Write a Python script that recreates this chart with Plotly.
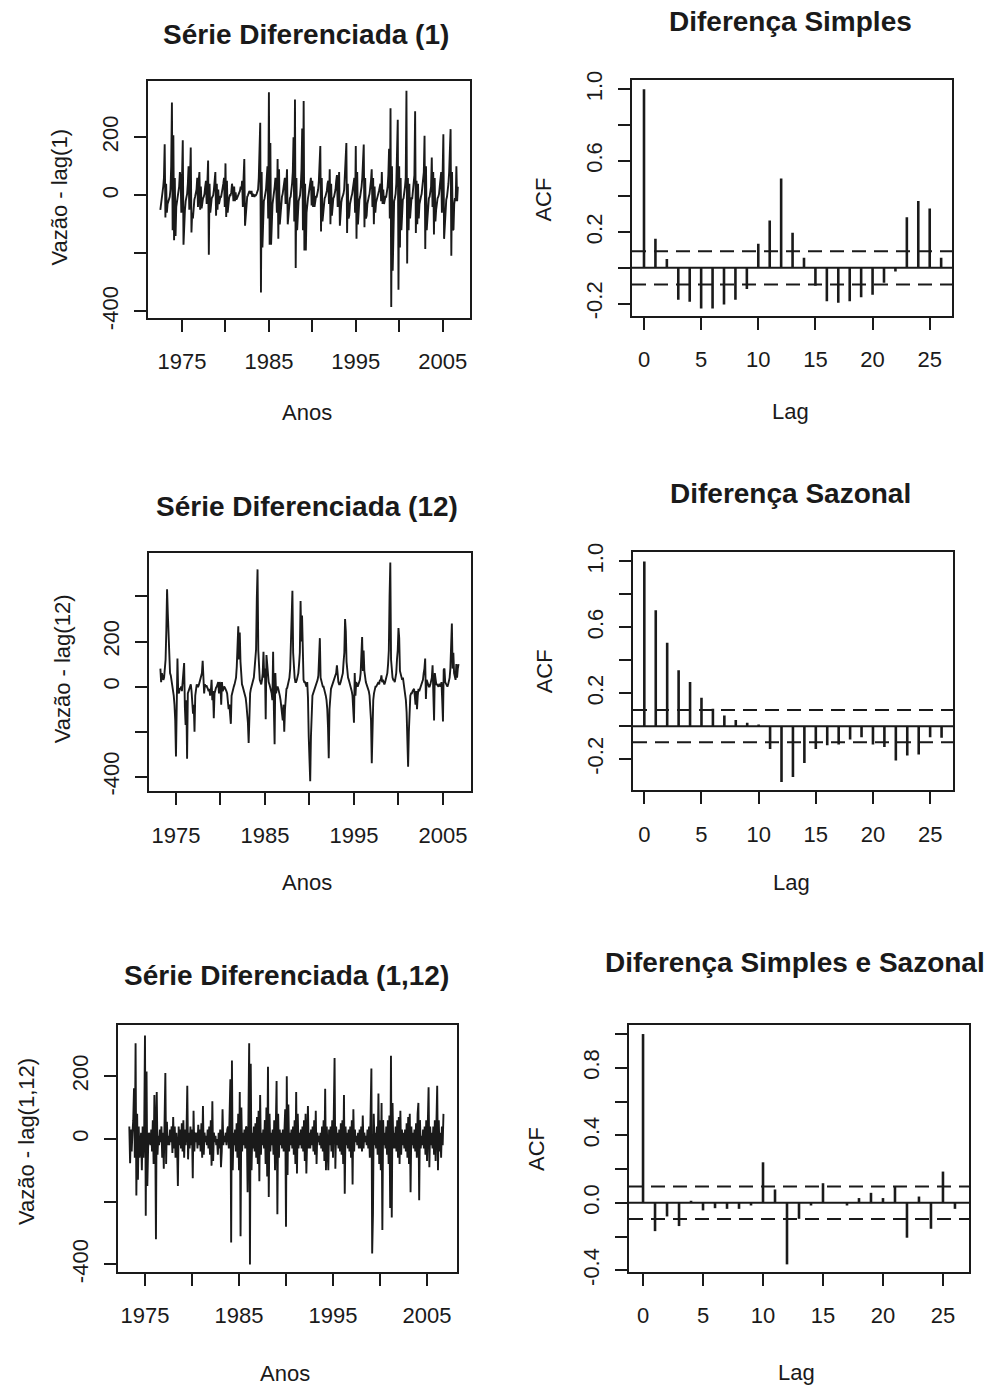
import plotly.graph_objects as go

# ------------------------------------------------------------------ data
FONT = "Liberation Sans, Arial, sans-serif"
INK = "#1a1a1a"

YEAR_TICKS = [1975, 1980, 1985, 1990, 1995, 2000, 2005]
YEAR_TICK_TEXT = ["1975", "", "1985", "", "1995", "", "2005"]
LAG_TICKS = [0, 5, 10, 15, 20, 25]
LAGS = list(range(27))

# Série diferenciada (1): monthly, first value Jul 1972, rows Jul..Jun
D1_START = 1972.5
diff1_rows = [
    [-50, -20, -10, 10, 30, 60, 176, -76, 40, -60, -30, -20],
    [-15, -5, 20, 100, 320, -120, 207, -155, 60, -140, -40, -20],
    [-10, 0, 30, 80, 60, -60, 120, 190, -170, -90, -50, -20],
    [-10, 5, 40, 100, -50, 80, 165, -128, -60, -80, -30, -15],
    [-5, 10, 20, 60, -40, 50, 80, -50, 30, -45, -20, -10],
    [-5, 5, 30, 50, -30, 40, 120, -205, 40, -60, -25, -10],
    [-5, 0, 20, 60, 80, -70, 40, -50, 20, -30, -15, -5],
    [-5, 5, 25, 40, 60, -40, 110, -75, 50, -60, -20, -10],
    [0, 0, 10, 40, 20, -20, 30, -20, 10, -15, -10, -5],
    [0, 5, 15, 30, 20, 50, -40, 60, 125, -105, -60, -20],
    [-5, 0, 10, 15, 10, 5, 15, -5, 5, 0, -5, 0],
    [0, 5, 10, 20, 60, 140, 250, -335, 80, -180, -60, -20],
    [-10, 0, 20, 60, 100, -80, 355, -170, 180, -170, -80, -30],
    [-10, 5, 30, 60, 40, -60, 125, -150, 90, -100, -60, -15],
    [-5, 5, 20, 50, 60, -30, 40, 90, -100, -60, -30, -10],
    [-5, 10, 40, 80, 200, -90, 330, -250, 60, -120, -60, -20],
    [-10, 0, 30, 90, 230, -120, 325, -190, 40, -190, -60, -20],
    [-10, 5, 20, 40, 60, -35, 50, -40, 30, -40, -20, -5],
    [-5, 5, 20, 50, 90, 170, -125, 60, -90, -60, -30, -10],
    [-5, 5, 15, 40, 50, -30, 90, -100, 40, -70, -30, -10],
    [-5, 5, 20, 50, 70, -40, 50, 80, -105, -50, -25, -10],
    [-5, 5, 20, 60, 100, 180, -130, 40, -80, -70, -30, -10],
    [-5, 5, 20, 40, 60, -60, 170, -150, 80, -100, -40, -15],
    [-5, 10, 30, 60, 160, 175, -110, 60, -80, -70, -30, -10],
    [-5, 5, 20, 50, 90, -40, 60, -100, 30, -60, -25, -10],
    [-5, 5, 15, 30, 40, -20, 80, -30, 20, -30, -15, -5],
    [-5, 10, 30, 70, 160, -80, 300, -385, 100, -260, -80, -20],
    [-10, 5, 40, 160, 260, -325, 100, -180, 60, -120, -40, -15],
    [-10, 5, 30, 60, 360, -235, 60, -120, 40, -80, -30, -10],
    [-10, 10, 40, 70, 290, -130, 50, -100, 40, -80, -30, -10],
    [-5, 5, 30, 60, 80, 205, -185, 100, -120, -80, -30, -10],
    [-5, 10, 30, 130, -40, 80, -135, 60, -90, -50, -25, -10],
    [-5, 5, 30, 60, 80, -60, 130, 210, -150, -100, -40, -15],
    [-5, 10, 40, 80, 140, 228, -208, 80, -120, -117, -30, -10],
    [-20, 100, -20, 30],
]

# Série diferenciada (12): first value Apr 1973
D12_START = 1973.25
diff12_rows = [
    [80, 20, 60],
    [50, 30, 40, 70, 120, 250, 432, 325, 215, 120, 60, 50],
    [30, 10, -10, -40, -80, -150, -310, -60, 125, -20, -30, -10],
    [-10, 0, -20, 20, 60, 105, -90, -170, -60, -320, -30, -10],
    [-10, 0, 10, -20, -60, -120, -80, -200, -40, 0, 10, 0],
    [0, 10, 20, 30, 40, 60, 115, 20, -30, 10, 0, 5],
    [0, -10, -20, -10, -40, -20, 30, -60, -20, -140, -30, -10],
    [-5, 0, 10, 20, -30, 20, 10, -80, 20, -20, -10, 0],
    [-5, -10, -20, -30, -60, -100, -80, -120, -165, -40, -20, -10],
    [0, 10, 20, 40, 90, 150, 268, 120, 240, 110, 40, 10],
    [0, -10, -20, -30, -50, -80, -120, -160, -250, -80, -30, -10],
    [0, 10, 20, 40, 80, 150, 165, 390, 520, 160, 60, 30],
    [20, 10, 30, 60, 155, 40, 80, -145, 140, 90, 40, 20],
    [10, 0, -20, -30, -60, 155, -100, -255, 60, -30, -10, 0],
    [-10, -20, -40, -60, -90, -120, -150, -80, -200, -100, -40, -10],
    [-5, 10, 20, 40, 80, 170, 335, 425, 150, 70, 40, 20],
    [20, 30, 40, 60, 100, 150, 380, 200, 315, 40, 30, 20],
    [20, 10, 0, 20, -50, -220, -375, -420, -220, -100, -40, -30],
    [-20, -10, 0, 10, 20, 30, 50, 160, 215, 40, 20, 10],
    [0, 0, -10, -20, -40, -60, -100, -180, -318, -100, -30, -10],
    [0, 10, 15, 20, 30, 40, 60, 95, 30, 20, 10, 10],
    [20, 30, 40, 60, 110, 150, 300, 245, 110, 50, 40, 30],
    [20, 10, 0, -20, -40, -80, -160, 60, -40, 20, 0, 0],
    [10, 20, 30, 60, 160, 220, 70, 160, 70, 20, 20, 10],
    [0, 0, -20, -40, -80, -150, -340, -150, -60, -30, -10, 0],
    [0, 10, 10, 20, 10, 30, 25, 50, 20, 30, 20, 10],
    [20, 30, 50, 60, 100, 160, 400, 550, 120, 60, 40, 30],
    [30, 20, 40, 60, 120, 160, 260, 215, 70, 60, 40, 30],
    [40, 20, 0, -20, -60, -115, -250, -355, -200, -80, -40, -30],
    [-30, -20, -10, -10, -40, -80, -20, -100, -40, -10, -20, -10],
    [0, 10, 20, 30, 60, 80, 125, -55, 30, 10, 10, 0],
    [0, 10, 20, 40, 95, 0, -150, 60, 20, 10, 10, 5],
    [0, 10, 10, 0, 20, -60, -155, 75, 80, 20, 10, 0],
    [0, 10, 20, 40, 80, 150, 280, 80, 150, 60, 40, 30],
    [100, 40, 80, 100],
]

# Série diferenciada (1,12): first value May 1973
D112_START = 1973 + 4 / 12
diff112_rows = [
    [40, -77],
    [30, -40, 20, 60, 162, -60, 305, -180, 80, -130, 40, -60],
    [-20, 20, -100, 40, -60, 30, 330, -245, 215, -150, -30, 20],
    [10, -20, 30, -40, 60, -80, 140, 55, -320, 150, -50, 10],
    [-20, 30, -10, 40, -60, 20, -95, 60, 210, -80, 55, -20],
    [10, -20, 30, -10, 40, -45, 70, -30, 40, -60, 20, -20],
    [-150, 40, -20, 30, -30, 50, -40, 60, -60, 30, -20, 20],
    [170, -65, 20, -30, 40, -20, 30, -125, 90, -40, 20, -10],
    [20, -30, 45, -20, 30, -40, 50, -60, 105, -50, 20, -10],
    [10, -20, 30, -30, 40, -50, 60, -85, 120, -70, 20, -10],
    [10, -20, 0, -50, 20, -30, 30, -90, -40, 95, -20, 10],
    [-10, 20, -20, 30, 40, -30, 60, 190, -330, 250, -100, 20],
    [-20, 30, -40, 50, -60, 80, -100, 150, -310, 100, -40, 20],
    [-20, 30, -30, 40, 35, -170, 60, 305, -400, 240, -100, 20],
    [-30, 40, -40, 50, -60, 70, -80, 90, -135, 140, -50, 20],
    [-20, 30, -30, 60, -80, 100, -120, 230, -185, 80, -40, 20],
    [-20, 30, -50, 60, -100, 120, 185, -240, 80, -60, 30, -20],
    [20, -30, 30, -40, 50, 95, -280, 200, -115, 110, -40, 20],
    [-20, 30, -30, 40, -50, 60, -80, 150, -110, 80, -30, 20],
    [-20, 30, -30, 40, -40, 60, -70, 80, -110, 40, 105, -30],
    [20, -30, 30, -20, 40, -40, 60, -50, 90, -80, 20, -10],
    [10, -20, 20, -30, 40, -40, 60, -70, 160, -100, 40, -20],
    [-100, 30, -20, 40, -40, 60, -60, 80, 258, -95, 40, -20],
    [20, -30, 30, -40, 50, -50, 60, -80, 140, -175, 40, -20],
    [20, -30, 30, -40, 40, -60, 60, -145, 95, -40, 30, -10],
    [10, -20, 20, -30, 30, -30, 40, -40, 75, -30, 20, -10],
    [10, -20, 30, -30, 40, -60, 170, 225, -365, -240, 80, -20],
    [20, -30, 40, -50, 145, -80, 60, -100, 115, -290, 60, -20],
    [20, -30, 40, -50, 60, -80, 75, -220, 265, -250, 115, -30],
    [20, -30, 40, -40, 60, -60, 70, -80, 90, -50, 30, -20],
    [20, -30, 30, -40, 50, -60, 70, -80, 80, -170, 40, -20],
    [20, -30, 30, -40, 50, -60, 80, 115, -195, 60, -30, 10],
    [-20, 30, -30, 40, -50, 60, -70, 80, 165, -90, 40, -20],
    [20, -30, 40, -50, 60, -70, 80, 170, -100, 60, -40, 20],
    [-60, 40, -20, 80],
]

# ACF values (lags 0..26)
acf_simples = [1.0, 0.163, 0.05, -0.178, -0.19, -0.228, -0.228, -0.205, -0.178,
               -0.118, 0.135, 0.265, 0.50, 0.196, 0.056, -0.10, -0.187, -0.196,
               -0.187, -0.164, -0.15, -0.084, -0.02, 0.284, 0.374, 0.333, 0.056]
acf_sazonal = [1.0, 0.704, 0.507, 0.339, 0.268, 0.172, 0.105, 0.065, 0.037,
               0.02, 0.01, -0.138, -0.339, -0.308, -0.223, -0.138, -0.116, -0.112,
               -0.081, -0.067, -0.112, -0.126, -0.209, -0.178, -0.172, -0.067, -0.071]
acf_ambas = [1.0, -0.168, -0.081, -0.138, 0.012, -0.045, -0.032, -0.036, -0.036,
             -0.016, 0.24, 0.079, -0.365, -0.095, -0.016, 0.116, 0.004, -0.016,
             0.028, 0.059, 0.028, 0.099, -0.207, 0.037, -0.154, 0.185, -0.036]
conf_simples = 0.093
conf_sazonal = 0.098
conf_ambas = 0.096

ACF_TICKS = [-0.4, -0.2, 0.0, 0.2, 0.4, 0.6, 0.8, 1.0]
ACF_TEXT_A = ["", "-0.2", "", "0.2", "", "0.6", "", "1.0"]
ACF_TEXT_B = ["-0.4", "", "0.0", "", "0.4", "", "0.8", ""]
TS_TICKS = [-400, -200, 0, 200, 400]
TS_TEXT = ["-400", "", "0", "200", ""]


def flatten(rows):
    return [v for r in rows for v in r]


def months(start, n):
    return [start + i / 12 for i in range(n)]


def stems(lags, vals):
    xs, ys = [], []
    for l, v in zip(lags, vals):
        xs += [l, l, None]
        ys += [0, v, None]
    return xs, ys


# ------------------------------------------------------------------ layout
W, H = 1000, 1388
# the captured page is mapped vertically as y_img = 9.3 + 0.984 * y_page;
# positions below are target image pixels, converted back to page pixels
V_OFF, V_SCALE = 9.3, 0.984


def py(y):
    return (y - V_OFF) / V_SCALE


# target pixel boxes (left, right, top, bottom)
BOX = {
    1: (148, 470, 81, 318),
    2: (632, 952, 80, 316),
    3: (149, 471, 554, 792),
    4: (633, 953, 553, 791),
    5: (118, 457, 1026, 1273),
    6: (629, 969, 1026, 1273),
}
XRANGE = {1: [1971.08, 2008.15], 2: [-1.05, 26.95], 3: [1971.97, 2008.15],
          4: [-0.99, 27.0], 5: [1972.13, 2008.19], 6: [-1.17, 27.17]}
YRANGE = {1: [-421, 395], 2: [-0.267, 1.054], 3: [-464, 591],
          4: [-0.389, 1.055], 5: [-424, 363], 6: [-0.41, 1.053]}

fig = go.Figure()

series = [(1, D1_START, flatten(diff1_rows)),
          (3, D12_START, flatten(diff12_rows)),
          (5, D112_START, flatten(diff112_rows))]
for k, start, vals in series:
    fig.add_trace(go.Scatter(x=months(start, len(vals)), y=vals, mode="lines",
                             line=dict(color=INK, width=1.9),
                             xaxis=f"x{k}", yaxis=f"y{k}", hoverinfo="skip"))

acfs = [(2, acf_simples, conf_simples), (4, acf_sazonal, conf_sazonal),
        (6, acf_ambas, conf_ambas)]
shapes = []
for k, vals, c in acfs:
    xs, ys = stems(LAGS, vals)
    fig.add_trace(go.Scatter(x=xs, y=ys, mode="lines",
                             line=dict(color=INK, width=2.6),
                             xaxis=f"x{k}", yaxis=f"y{k}", hoverinfo="skip"))
    shapes.append(dict(type="line", xref=f"x{k} domain", yref=f"y{k}",
                       x0=0, x1=1, y0=0, y1=0, line=dict(color=INK, width=2)))
    for s in (c, -c):
        shapes.append(dict(type="line", xref=f"x{k} domain", yref=f"y{k}",
                           x0=0, x1=1, y0=s, y1=s,
                           line=dict(color=INK, width=2, dash="14px,8px")))

common = dict(showline=True, linecolor=INK, linewidth=2, mirror=True,
              ticks="outside", ticklen=12, tickwidth=2, tickcolor=INK,
              showgrid=False, zeroline=False, fixedrange=True,
              tickfont=dict(family=FONT, size=22, color=INK))

layout = {}
for k, (l, r, t, b) in BOX.items():
    ts = k in (1, 3, 5)
    xa = dict(common, domain=[l / W, r / W], range=XRANGE[k],
              anchor=f"y{k}", ticklabelstandoff=11)
    ya = dict(common, domain=[1 - py(b) / H, 1 - py(t) / H], range=YRANGE[k],
              anchor=f"x{k}", tickangle=-90, ticklabelstandoff=7)
    if ts:
        xa.update(tickmode="array", tickvals=YEAR_TICKS, ticktext=YEAR_TICK_TEXT)
        ya.update(tickmode="array", tickvals=TS_TICKS, ticktext=TS_TEXT)
    else:
        xa.update(tickmode="array", tickvals=LAG_TICKS,
                  ticktext=[str(v) for v in LAG_TICKS])
        txt = ACF_TEXT_B if k == 6 else ACF_TEXT_A
        ya.update(tickmode="array", tickvals=ACF_TICKS, ticktext=txt)
    layout[f"xaxis{k}"] = xa
    layout[f"yaxis{k}"] = ya

annotations = []


def ann(text, x, y, size=22, bold=False, angle=0):
    annotations.append(dict(
        text=f"<b>{text}</b>" if bold else text, x=x / W, y=1 - py(y) / H,
        xref="paper", yref="paper", xanchor="center", yanchor="middle",
        showarrow=False, textangle=angle,
        font=dict(family=FONT, size=size, color=INK)))


TITLES = [("Série Diferenciada (1)", 306, 35), ("Diferença Simples", 790, 22),
          ("Série Diferenciada (12)", 307, 507), ("Diferença Sazonal", 790, 494),
          ("Série Diferenciada (1,12)", 286, 976),
          ("Diferença Simples e Sazonal", 795, 963)]
for t, x, y in TITLES:
    ann(t, x, y, size=28, bold=True)

XTITLES = [("Anos", 307, 413), ("Lag", 790, 412), ("Anos", 307, 883),
           ("Lag", 791, 883), ("Anos", 285, 1375), ("Lag", 796, 1374)]
for t, x, y in XTITLES:
    ann(t, x, y)

YTITLES = [("Vazão - lag(1)", 60, 198), ("ACF", 544, 200),
           ("Vazão - lag(12)", 62, 670), ("ACF", 544, 672),
           ("Vazão - lag(1,12)", 26, 1143), ("ACF", 536, 1150)]
for t, x, y in YTITLES:
    ann(t, x, y, angle=-90)

fig.update_layout(
    width=W, height=H, margin=dict(l=0, r=0, t=0, b=0, pad=0),
    paper_bgcolor="white", plot_bgcolor="white", showlegend=False,
    shapes=shapes, annotations=annotations, **layout)

fig.write_html(
    "out.html",
    config={"displayModeBar": False, "staticPlot": True},
    post_script="document.body.style.margin='0';"
                "document.documentElement.style.overflow='hidden';")
